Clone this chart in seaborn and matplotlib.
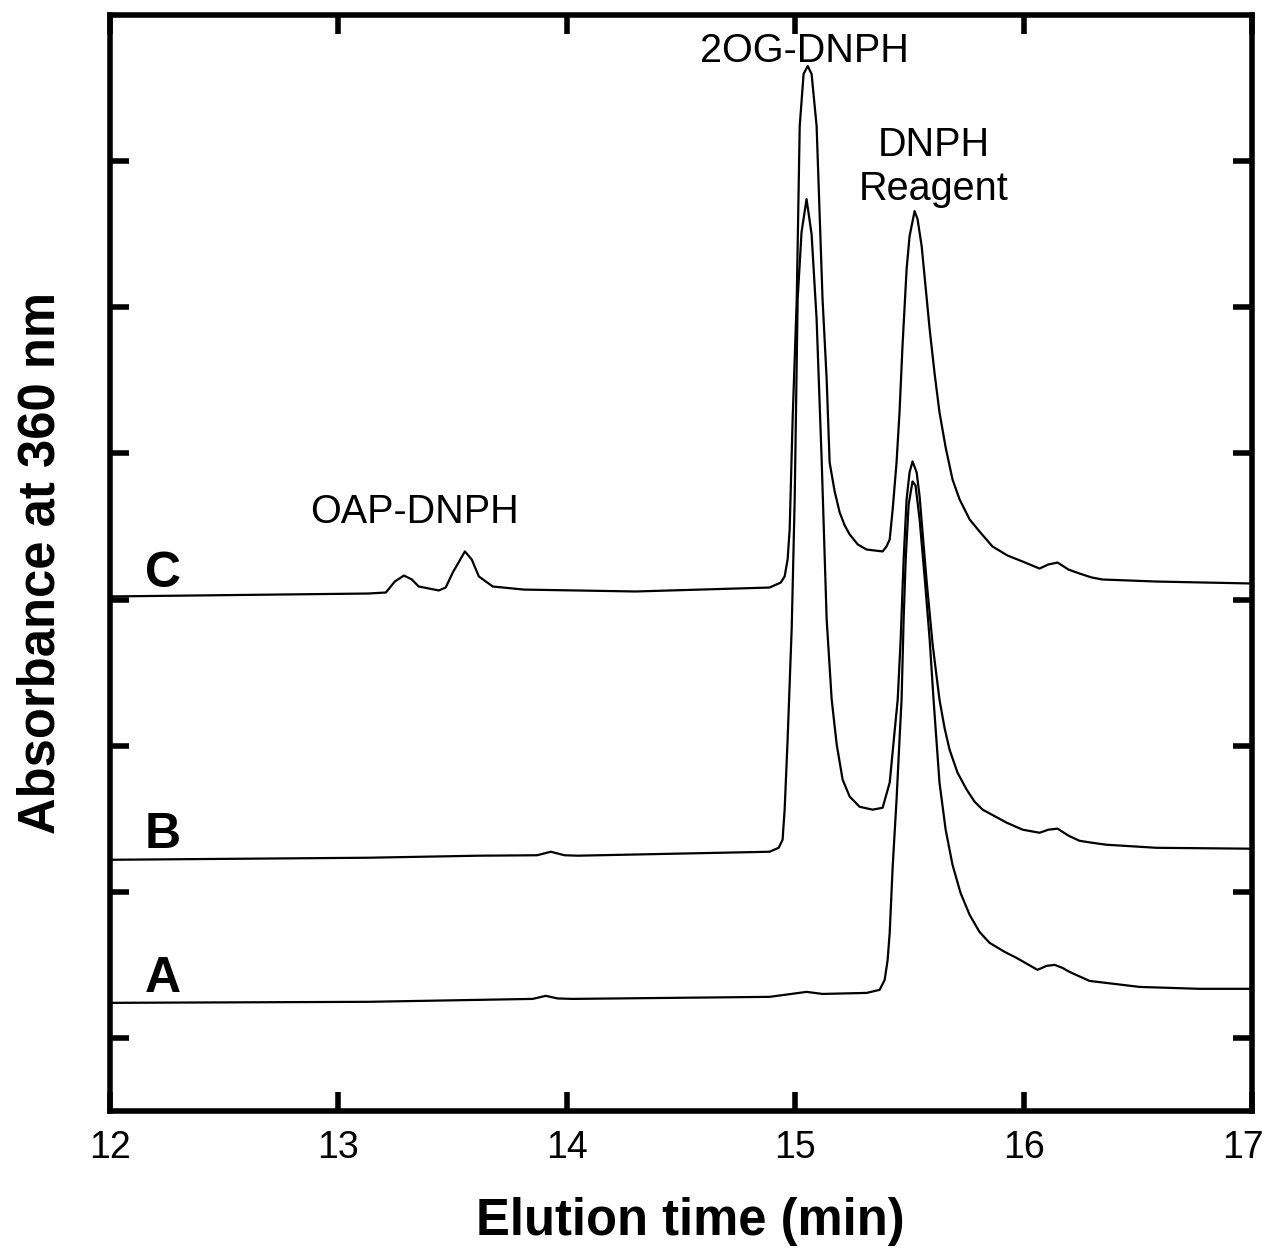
import pandas as pd
import seaborn as sns
import matplotlib.pyplot as plt
import matplotlib.transforms as mtransforms

# HPLC traces
# time in min, absorbance in y-tick units (one tick step = 1)
time_a = [12.000, 13.129, 13.851, 13.908, 13.960, 14.026, 14.888, 15.050, 15.120,
          15.313, 15.370, 15.392, 15.405, 15.414, 15.427, 15.444, 15.457, 15.466,
          15.475, 15.484, 15.497, 15.514, 15.527, 15.545, 15.567, 15.589, 15.606,
          15.632, 15.659, 15.689, 15.724, 15.764, 15.807, 15.851, 15.917, 15.969,
          16.061, 16.101, 16.136, 16.171, 16.201, 16.289, 16.508, 16.770, 16.989]
abs_a = [0.240, 0.247, 0.267, 0.288, 0.270, 0.267, 0.281, 0.315, 0.301,
         0.308, 0.329, 0.397, 0.534, 0.719, 1.171, 1.630, 2.041, 2.315,
         2.863, 3.274, 3.651, 3.808, 3.781, 3.548, 3.151, 2.726, 2.315,
         1.747, 1.425, 1.185, 0.993, 0.842, 0.726, 0.651, 0.589, 0.548,
         0.466, 0.493, 0.500, 0.479, 0.452, 0.390, 0.349, 0.336, 0.336]

time_b = [12.000, 13.129, 13.615, 13.870, 13.930, 13.990, 14.048, 14.888, 14.928,
          14.945, 14.954, 14.967, 14.985, 14.998, 15.011, 15.028, 15.050, 15.072,
          15.094, 15.116, 15.138, 15.160, 15.182, 15.208, 15.239, 15.282, 15.339,
          15.383, 15.414, 15.435, 15.449, 15.462, 15.475, 15.488, 15.501, 15.514,
          15.532, 15.545, 15.575, 15.602, 15.632, 15.654, 15.676, 15.711, 15.751,
          15.786, 15.821, 15.926, 15.996, 16.070, 16.109, 16.149, 16.197, 16.245,
          16.298, 16.363, 16.582, 16.989]
abs_b = [1.219, 1.233, 1.247, 1.250, 1.274, 1.250, 1.247, 1.274, 1.301,
         1.356, 1.562, 2.041, 2.808, 3.685, 5.055, 5.514, 5.740, 5.500,
         4.918, 3.959, 2.863, 2.315, 2.007, 1.767, 1.651, 1.582, 1.562,
         1.575, 1.747, 2.089, 2.315, 2.726, 3.274, 3.685, 3.870, 3.945,
         3.870, 3.705, 3.137, 2.692, 2.315, 2.123, 1.973, 1.815, 1.699,
         1.616, 1.562, 1.473, 1.425, 1.404, 1.425, 1.432, 1.384, 1.349,
         1.336, 1.322, 1.301, 1.295]

time_c = [12.000, 13.129, 13.208, 13.247, 13.287, 13.322, 13.352, 13.440, 13.470,
          13.501, 13.554, 13.584, 13.615, 13.676, 13.812, 14.302, 14.888, 14.937,
          14.954, 14.967, 14.976, 14.989, 15.007, 15.020, 15.037, 15.055, 15.072,
          15.094, 15.120, 15.138, 15.151, 15.173, 15.195, 15.217, 15.239, 15.274,
          15.313, 15.383, 15.400, 15.414, 15.427, 15.444, 15.457, 15.470, 15.488,
          15.501, 15.523, 15.536, 15.554, 15.589, 15.611, 15.632, 15.659, 15.689,
          15.720, 15.764, 15.807, 15.864, 15.930, 15.996, 16.070, 16.109, 16.149,
          16.197, 16.245, 16.298, 16.346, 16.582, 16.989]
abs_c = [3.021, 3.041, 3.048, 3.123, 3.164, 3.137, 3.089, 3.062, 3.082,
         3.185, 3.329, 3.274, 3.158, 3.089, 3.068, 3.055, 3.082, 3.116,
         3.158, 3.274, 3.479, 4.233, 5.055, 6.240, 6.596, 6.651, 6.596,
         6.240, 5.055, 4.507, 3.938, 3.740, 3.596, 3.507, 3.445, 3.377,
         3.342, 3.329, 3.363, 3.411, 3.616, 3.938, 4.281, 4.733, 5.260,
         5.486, 5.658, 5.603, 5.418, 4.849, 4.541, 4.281, 4.041, 3.822,
         3.685, 3.548, 3.466, 3.363, 3.301, 3.260, 3.212, 3.240, 3.253,
         3.205, 3.178, 3.151, 3.137, 3.123, 3.110]

x_ticks = [12, 13, 14, 15, 16, 17]
y_ticks = [0, 1, 2, 3, 4, 5, 6]

traces = pd.concat([
    pd.DataFrame({"time": time_a, "absorbance": abs_a, "trace": "A"}),
    pd.DataFrame({"time": time_b, "absorbance": abs_b, "trace": "B"}),
    pd.DataFrame({"time": time_c, "absorbance": abs_c, "trace": "C"}),
], ignore_index=True)

sns.set_theme(style="ticks", rc={"text.color": "black", "axes.labelcolor": "black",
                                 "xtick.color": "black", "ytick.color": "black"})
plt.rcParams["font.family"] = ["Liberation Sans", "DejaVu Sans"]

fig = plt.figure(figsize=(12.67, 12.49), dpi=100)
ax = fig.add_axes([0.0868, 0.1105, 0.9013, 0.8775])

sns.lineplot(data=traces, x="time", y="absorbance", hue="trace",
             palette={"A": "black", "B": "black", "C": "black"},
             estimator=None, legend=False, linewidth=1.6, ax=ax)

ax.set_xlim(12, 17)
ax.set_ylim(-0.5, 7.0)
ax.set_xticks(x_ticks)
ax.set_yticks(y_ticks)
ax.set_yticklabels([])
ax.tick_params(direction="in", length=13.5, width=4, top=True, right=True,
               labelsize=27, pad=14, colors="black")
for sp in ax.spines.values():
    sp.set_linewidth(4)
    sp.set_color("black")

# last tick label sits a little inside the figure edge
last = ax.xaxis.get_major_ticks()[-1].label1
last.set_transform(last.get_transform() +
                   mtransforms.ScaledTranslation(-0.09, 0, fig.dpi_scale_trans))

ax.set_xlabel("Elution time (min)", fontsize=36.5, fontweight="bold", labelpad=22)
ax.xaxis.label.set_x(0.508)
ax.set_ylabel("Absorbance at 360 nm", fontsize=36.5, fontweight="bold", labelpad=18)

# peak annotations
ax.text(15.042, 6.678, "2OG-DNPH", fontsize=28.5, ha="center", va="baseline")
ax.text(15.606, 6.034, "DNPH", fontsize=28.5, ha="center", va="baseline")
ax.text(15.606, 5.733, "Reagent", fontsize=28.5, ha="center", va="baseline")
ax.text(13.335, 3.527, "OAP-DNPH", fontsize=28.5, ha="center", va="baseline")

# trace letters
for lab, yb in [("A", 0.315), ("B", 1.301), ("C", 3.089)]:
    ax.text(12.232, yb, lab, fontsize=36, fontweight="bold", ha="center", va="baseline")

fig.savefig("out.png", dpi=100)
